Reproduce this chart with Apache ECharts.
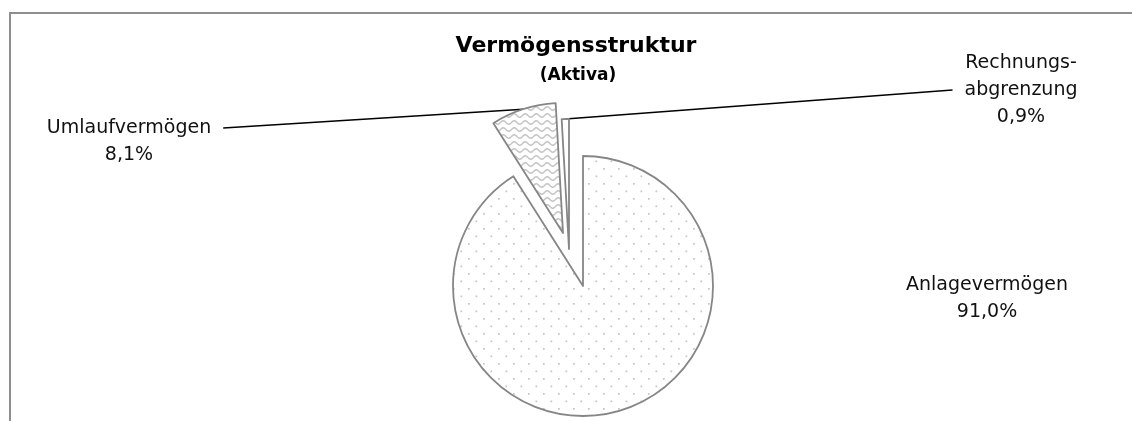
<!DOCTYPE html>
<html>
<head>
<meta charset="utf-8">
<script src="https://cdn.jsdelivr.net/npm/echarts@6/dist/echarts.min.js"></script>
<style>
  html, body { margin: 0; padding: 0; background: #fff; }
  #frame { position: absolute; left: 9px; top: 12px; right: 0; bottom: 0;
           border-top: 2px solid #8e8e8e; border-left: 2px solid #8e8e8e; }
  #main { position: absolute; left: 0; top: 0; width: 1132px; height: 421px; }
</style>
</head>
<body>
<div id="frame"></div>
<div id="main"></div>
<script>
// Daten
var categories = ['Anlagevermögen', 'Umlaufvermögen', 'Rechnungs-\nabgrenzung'];
var shares = [91.0, 8.1, 0.9];

// Layout: Mittelpunkt je Segment (herausgezogene Stücke) und Beschriftung
var centers = [[583, 286], [563, 233], [569, 249]];
var labelPos = [[987, 299], [129, 128], [1021, 90]];
var labelLead = ['', '\n', '']; // Leerzeile oben: Linie setzt an der ersten Zeile an

// Füllmuster
function dotPattern() {
  var c = document.createElement('canvas');
  c.width = 15; c.height = 15;
  var ctx = c.getContext('2d');
  ctx.fillStyle = '#fff';
  ctx.fillRect(0, 0, 15, 15);
  ctx.fillStyle = '#c4c4c4';
  ctx.fillRect(3, 3, 1.7, 1.7);
  ctx.fillRect(10.5, 10.5, 1.7, 1.7);
  return c;
}
function wavePattern() {
  var c = document.createElement('canvas');
  c.width = 11; c.height = 7;
  var ctx = c.getContext('2d');
  ctx.fillStyle = '#fff';
  ctx.fillRect(0, 0, 11, 7);
  ctx.strokeStyle = '#c6c6c6';
  ctx.lineWidth = 1.6;
  ctx.beginPath();
  for (var x = -1; x <= 12; x += 0.5) {
    var y = 3.5 + 1.7 * Math.sin(2 * Math.PI * x / 11);
    if (x === -1) ctx.moveTo(x, y); else ctx.lineTo(x, y);
  }
  ctx.stroke();
  return c;
}

var fills = [
  { image: dotPattern(), repeat: 'repeat' },
  { image: wavePattern(), repeat: 'repeat' },
  '#ffffff'
];

function fmt(p) {
  return labelLead[p.dataIndex] + p.name + '\n' + p.value.toFixed(1).replace('.', ',') + '%';
}

function pieSeries(k) {
  return {
    type: 'pie',
    center: centers[k],
    radius: 130,
    startAngle: 90,
    clockwise: true,
    silent: true,
    animation: false,
    avoidLabelOverlap: false,
    data: categories.map(function (name, i) {
      var on = i === k;
      return {
        name: name,
        value: shares[i],
        itemStyle: on
          ? { color: fills[i], borderColor: '#868686', borderWidth: 1.8 }
          : { color: 'rgba(0,0,0,0)', borderWidth: 0 },
        label: {
          show: on,
          formatter: fmt,
          fontFamily: 'DejaVu Sans',
          fontSize: 19,
          lineHeight: 27,
          color: '#111',
          align: 'center',
          padding: [0, 12]
        },
        labelLine: {
          show: on && k !== 0,
          length2: 0,
          lineStyle: { color: '#000', width: 1.4 }
        }
      };
    }),
    labelLayout: function () {
      return { x: labelPos[k][0], y: labelPos[k][1], align: 'center', verticalAlign: 'middle' };
    }
  };
}

var chart = echarts.init(document.getElementById('main'), null, { renderer: 'canvas' });
chart.setOption({
  backgroundColor: 'transparent',
  title: [
    {
      text: 'Vermögensstruktur',
      left: 576, top: 35, padding: 0, textAlign: 'center',
      textStyle: { fontFamily: 'DejaVu Sans', fontWeight: 'bold', fontSize: 22, color: '#000' }
    },
    {
      text: '(Aktiva)',
      left: 578, top: 67, padding: 0, textAlign: 'center',
      textStyle: { fontFamily: 'DejaVu Sans', fontWeight: 'bold', fontSize: 17, color: '#000' }
    }
  ],
  series: [pieSeries(0), pieSeries(1), pieSeries(2)]
});
</script>
</body>
</html>
